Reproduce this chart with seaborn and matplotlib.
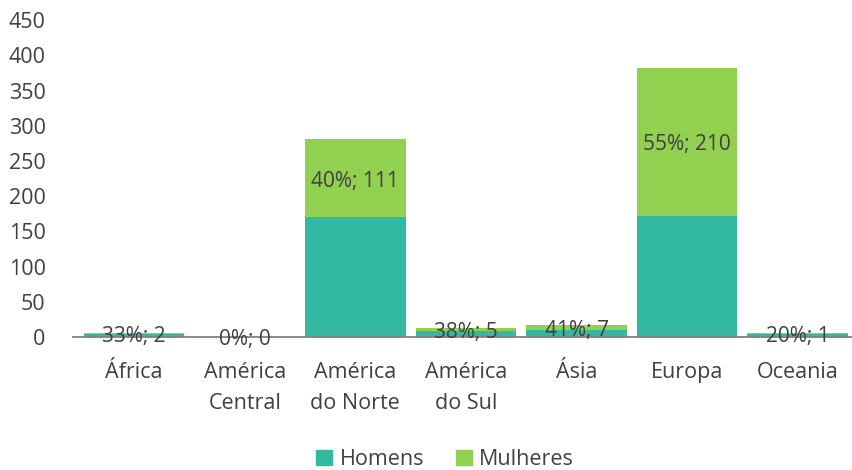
import matplotlib
matplotlib.use("Agg")
import matplotlib.pyplot as plt
import matplotlib.patches as mpatches
import pandas as pd
import seaborn as sns

regioes = ["África", "América\nCentral", "América\ndo Norte", "América\ndo Sul", "Ásia", "Europa", "Oceania"]
homens = [4, 0, 170, 8, 10, 172, 4]
mulheres = [2, 0, 111, 5, 7, 210, 1]
pct = ["33%", "0%", "40%", "38%", "41%", "55%", "20%"]

cor_h = "#33B9A0"
cor_m = "#92D050"
cinza = "#404040"

sns.set_style("white")
plt.rcParams["font.family"] = ["Open Sans", "DejaVu Sans"]

df = pd.DataFrame({"regiao": regioes, "Homens": homens, "Mulheres": mulheres})
df["total"] = df["Homens"] + df["Mulheres"]

fig = plt.figure(figsize=(8.53, 4.70), dpi=100)
ax = fig.add_axes([0.086, 0.283, 0.914, 0.674])

sns.barplot(data=df, x="regiao", y="total", color=cor_m, width=0.91, saturation=1, linewidth=0, ax=ax)
sns.barplot(data=df, x="regiao", y="Homens", color=cor_h, width=0.91, saturation=1, linewidth=0, ax=ax)

for i, row in df.iterrows():
    ax.text(i, row["Homens"] + row["Mulheres"] / 2 - 4, f"{pct[i]}; {row['Mulheres']}",
            ha="center", va="center", fontsize=15, color=cinza)

ax.set_ylim(0, 450)
ax.set_yticks(range(0, 451, 50))
ax.set_xlim(-0.55, 6.5)
ax.set_xlabel("")
ax.set_ylabel("")
ax.tick_params(axis="both", length=0, labelcolor=cinza)
ax.tick_params(axis="y", pad=20, labelsize=15.5)
ax.tick_params(axis="x", pad=18, labelsize=15.5)
for lab in ax.get_xticklabels():
    lab.set_linespacing(1.6)
for s in ["top", "right", "left"]:
    ax.spines[s].set_visible(False)
ax.spines["bottom"].set_color("#808080")
ax.spines["bottom"].set_linewidth(1.3)
ax.set_zorder(1)

handles = [mpatches.Patch(color=cor_h, label="Homens"), mpatches.Patch(color=cor_m, label="Mulheres")]
fig.legend(handles=handles, loc="center", bbox_to_anchor=(0.522, 0.022), ncol=2, frameon=False,
           fontsize=15.5, handlelength=0.72, handleheight=0.72, handletextpad=0.35, columnspacing=1.5,
           labelcolor=cinza)

fig.savefig("out.png", dpi=100)
